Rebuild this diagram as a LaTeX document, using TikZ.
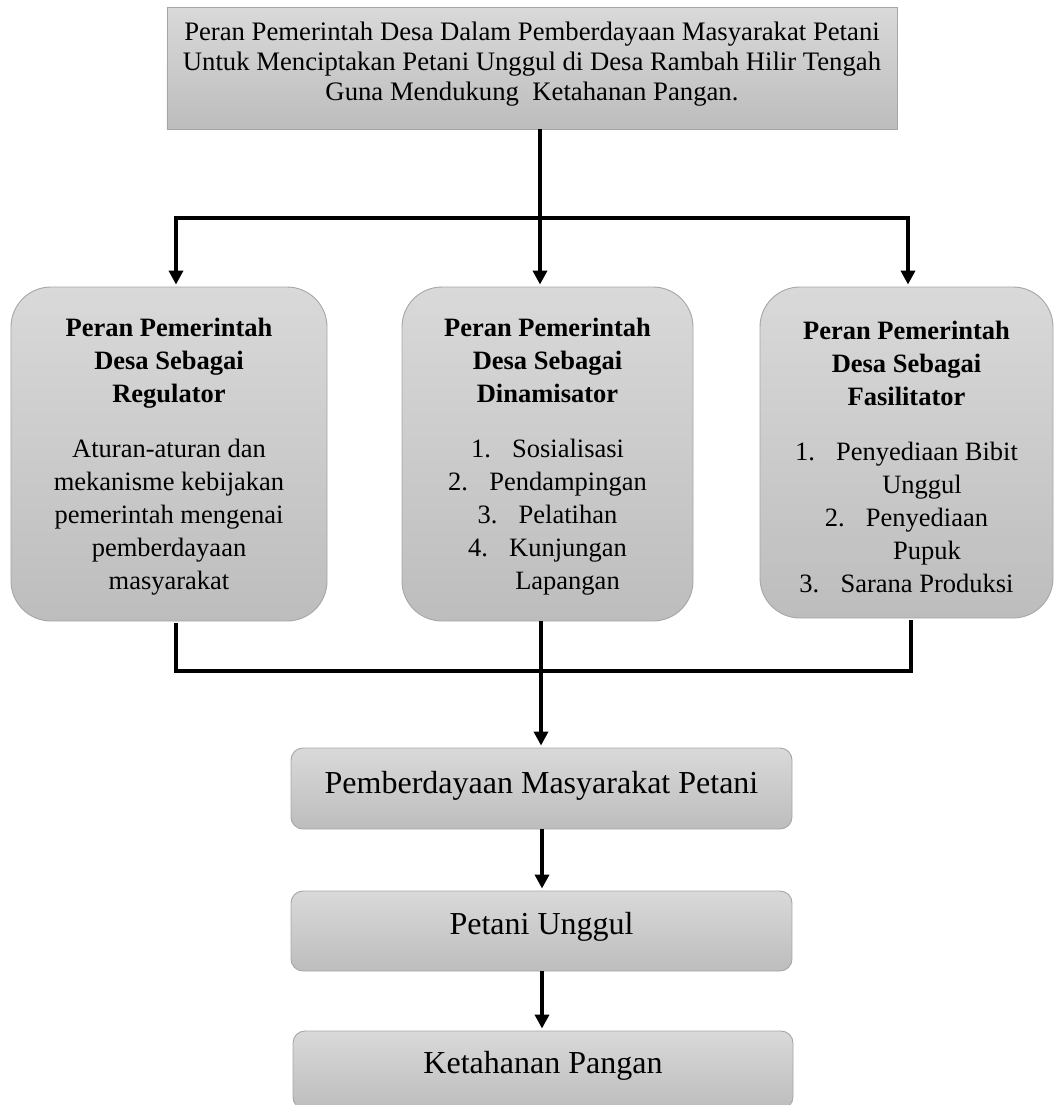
\documentclass[tikz,border=0pt]{standalone}
\usepackage{fontspec}
\setmainfont{Liberation Serif}
\usetikzlibrary{arrows.meta}
\definecolor{shtop}{HTML}{D9D9D9}
\definecolor{shbot}{HTML}{BDBDBD}
\definecolor{edge}{HTML}{A6A6A6}
\tikzset{
  gbox/.style={draw=edge, line width=0.9bp, top color=shtop, bottom color=shbot, inner sep=0pt},
  rolebox/.style={gbox, rounded corners=40bp},
  flowbox/.style={gbox, rounded corners=12bp, minimum width=501bp},
  conn/.style={line width=3.6bp, black},
  arr/.style={conn, -{Triangle[width=14bp,length=14bp]}, shorten >=2bp},
  roletext/.style={align=center, font=\fontsize{26.5bp}{33bp}\selectfont},
  toptext/.style={align=center, font=\fontsize{26.7bp}{30bp}\selectfont},
  flowtext/.style={font=\fontsize{32bp}{36bp}\selectfont},
}
\begin{document}
\begin{tikzpicture}[x=1bp,y=-1bp]
\useasboundingbox (0,0) rectangle (1056,1105);
% top box
\node[gbox, minimum width=730bp, minimum height=122bp] (top) at (532,68) {};
\node[toptext] (toplbl) at (532,64) {Peran Pemerintah Desa Dalam Pemberdayaan Masyarakat Petani\\Untuk Menciptakan Petani Unggul di Desa Rambah Hilir Tengah\\Guna Mendukung\ \ Ketahanan Pangan.};
% role boxes
\node[rolebox, minimum width=316bp, minimum height=334bp] (reg) at (169,454) {};
\node[rolebox, minimum width=291bp, minimum height=334bp] (din) at (547.5,454) {};
\node[rolebox, minimum width=293bp, minimum height=331bp] (fas) at (906.5,452.5) {};
\node[roletext] (regtxt) at (169,457) {\textbf{Peran Pemerintah}\\\textbf{Desa Sebagai}\\\textbf{Regulator}\\[22bp]Aturan-aturan dan\\mekanisme kebijakan\\pemerintah mengenai\\pemberdayaan\\masyarakat};
\node[roletext] (dintxt) at (547.5,457) {\textbf{Peran Pemerintah}\\\textbf{Desa Sebagai}\\\textbf{Dinamisator}\\[22bp]1.\hspace{0.8em}Sosialisasi\\2.\hspace{0.8em}Pendampingan\\3.\hspace{0.8em}Pelatihan\\4.\hspace{0.8em}Kunjungan\\\hspace*{40bp}Lapangan};
\node[roletext] (fastxt) at (906.5,457) {\textbf{Peran Pemerintah}\\\textbf{Desa Sebagai}\\\textbf{Fasilitator}\\[22bp]1.\hspace{0.8em}Penyediaan Bibit\\\hspace*{31bp}Unggul\\2.\hspace{0.8em}Penyediaan\\\hspace*{41bp}Pupuk\\3.\hspace{0.8em}Sarana Produksi};
% flow boxes
\node[flowbox, minimum height=81bp] (pm) at (541.5,788.5) {};
\node[flowtext] (pmtxt) at (541.5,786) {Pemberdayaan Masyarakat Petani};
\node[flowbox, minimum height=80bp] (pu) at (541.5,931) {};
\node[flowtext] (putxt) at (541.5,927) {Petani Unggul};
\node[flowbox, minimum height=78bp, minimum width=500bp] (kp) at (543,1070) {};
\node[flowtext] (kptxt) at (543,1066) {Ketahanan Pangan};
% junction coordinates
\coordinate (jt) at (540,218);
\coordinate (jl) at (176,218);
\coordinate (jr) at (908,218);
\coordinate (bl) at (176,671);
\coordinate (bm) at (541,671);
\coordinate (br) at (911,671);
% top connectors
\draw[conn] (top.south -| jt) -- (jt);
\draw[conn] ([xshift=-1.8bp]jl) -- ([xshift=1.8bp]jr);
\draw[arr] (jl) -- (jl |- reg.north);
\draw[arr] (jt) -- (jt |- din.north);
\draw[arr] (jr) -- (jr |- fas.north);
% bottom connectors
\draw[conn] ([yshift=-2bp]bl |- reg.south) -- (bl) -- (br) -- ([yshift=-2bp]br |- fas.south);
\draw[arr] (din.south -| bm) -- (pm.north -| bm);
\draw[arr] (pm.south -| 542,0) -- (pu.north -| 542,0);
\draw[arr] (pu.south -| 542,0) -- (kp.north -| 542,0);
\end{tikzpicture}
\end{document}
